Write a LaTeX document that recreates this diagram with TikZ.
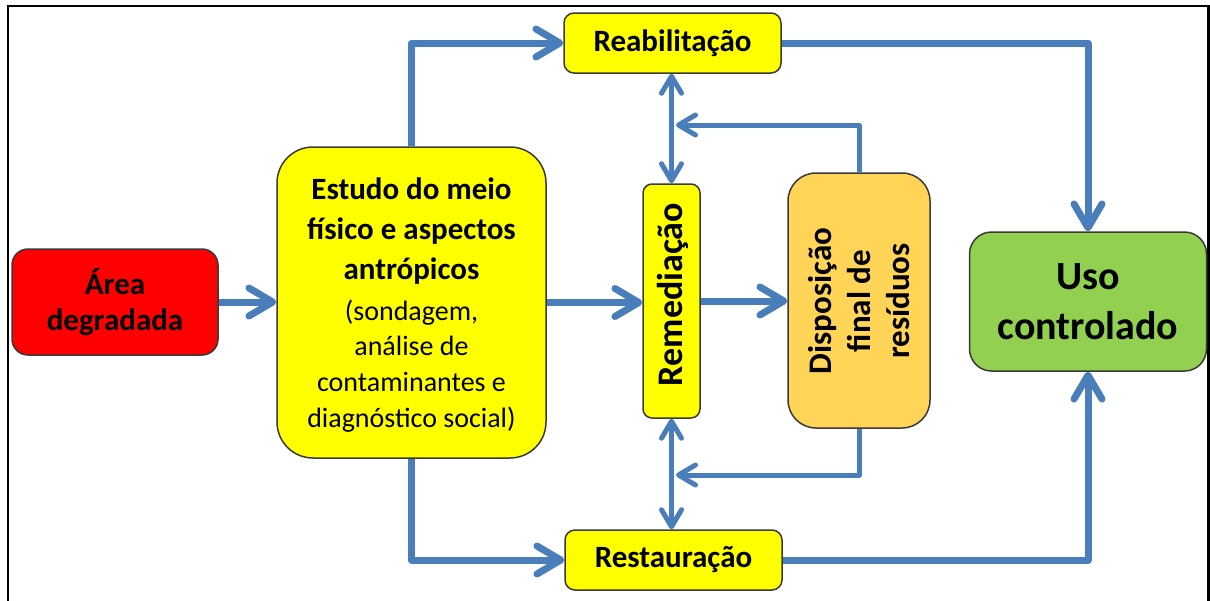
\documentclass[tikz,border=0pt]{standalone}
\usepackage{fontspec}
\setmainfont{Carlito}
\usepackage{graphicx}
\usetikzlibrary{arrows.meta}
\definecolor{flow}{HTML}{4A7EBB}
\definecolor{boxyellow}{HTML}{FFFF00}
\definecolor{boxred}{HTML}{FF0000}
\definecolor{boxorange}{HTML}{FFD457}
\definecolor{boxgreen}{HTML}{92D050}
\definecolor{boxedge}{HTML}{3A3A3A}
\newcommand\fsz[2]{\fontsize{#1}{#2}\selectfont}
\begin{document}
\begin{tikzpicture}[x=1pt,y=-1pt,
  >={Straight Barb[length=0pt 3.4,width=0pt 4.0,round]},
  box/.style={draw=boxedge, line width=1.5pt, rectangle, inner sep=0pt, align=center},
  lbl/.style={inner sep=0pt, align=center},
  mainflow/.style={draw=flow, line width=7pt, line join=round, ->},
  thinflow/.style={draw=flow, line width=5pt, line join=round, ->},
  thinboth/.style={draw=flow, line width=5pt, line join=round, <->}
]
\useasboundingbox (0,0) rectangle (1210,600);
\fill[white] (0,0) rectangle (1210,600);
\draw[black, line width=2.5pt] (8,605) -- (8,6) -- (1208.5,6) -- (1208.5,605);

% boxes
\node[box, fill=boxred, rounded corners=16pt, minimum width=206pt, minimum height=106pt,
      font=\fsz{31}{36}\bfseries] (area) at (115,302) {Área\\degradada};
\node[box, fill=boxyellow, rounded corners=36pt, minimum width=269pt, minimum height=311pt] (estudo) at (411.5,302.5) {};
\node[lbl, font=\fsz{31}{40}\bfseries] (estudoA) at (411.5,231.5) {Estudo do meio\\físico e aspectos\\antrópicos};
\node[lbl, font=\fsz{28}{35.7}] (estudoB) at (411.5,366) {(sondagem,\\análise de\\contaminantes e\\diagnóstico social)};
\node[box, fill=boxyellow, rounded corners=10pt, minimum width=217pt, minimum height=60pt,
      font=\fsz{31}{38}\bfseries] (reab) at (672.5,43) {Reabilitação};
\node[box, fill=boxyellow, rounded corners=10pt, minimum width=217pt, minimum height=60pt,
      font=\fsz{31}{38}\bfseries] (rest) at (673.5,560) {Restauração};
\node[box, fill=boxyellow, rounded corners=9pt, minimum width=57pt, minimum height=234pt] (reme) at (671.5,301) {};
\node[lbl, rotate=90, font=\fsz{36}{44}\bfseries] (remeT) at (672.5,294.5) {Remediação};
\node[box, fill=boxorange, rounded corners=28pt, minimum width=142pt, minimum height=255pt] (disp) at (859,300.5) {};
\node[lbl, rotate=90, font=\fsz{33}{39}\bfseries] (dispT) at (859,301) {Disposição\\final de\\resíduos};
\node[box, fill=boxgreen, rounded corners=22pt, minimum width=237pt, minimum height=139pt,
      font=\fsz{40}{50}\bfseries] (uso) at (1088,301.5) {Uso\\controlado};

\coordinate (fbtop) at (676,125);
\coordinate (fbbot) at (676,475);

% main connectors
\draw[mainflow] (area.east) -- (area.east -| estudo.west);
\draw[mainflow] (estudo.north) |- (reab.west);
\draw[mainflow] (estudo.south) |- (rest.west);
\draw[mainflow] (estudo.east) -- (estudo.east -| reme.west);
\draw[mainflow] (reme.east) -- (reme.east -| disp.west);
\draw[mainflow] (reab.east) -| (uso.north);
\draw[mainflow] (rest.east) -| (uso.south);

% thin connectors
\draw[thinboth] (reme.north |- reab.south) -- (reme.north);
\draw[thinboth] (reme.south) -- (reme.south |- rest.north);
\draw[thinflow] (disp.north) |- (fbtop);
\draw[thinflow] (disp.south) |- (fbbot);
\end{tikzpicture}
\end{document}
